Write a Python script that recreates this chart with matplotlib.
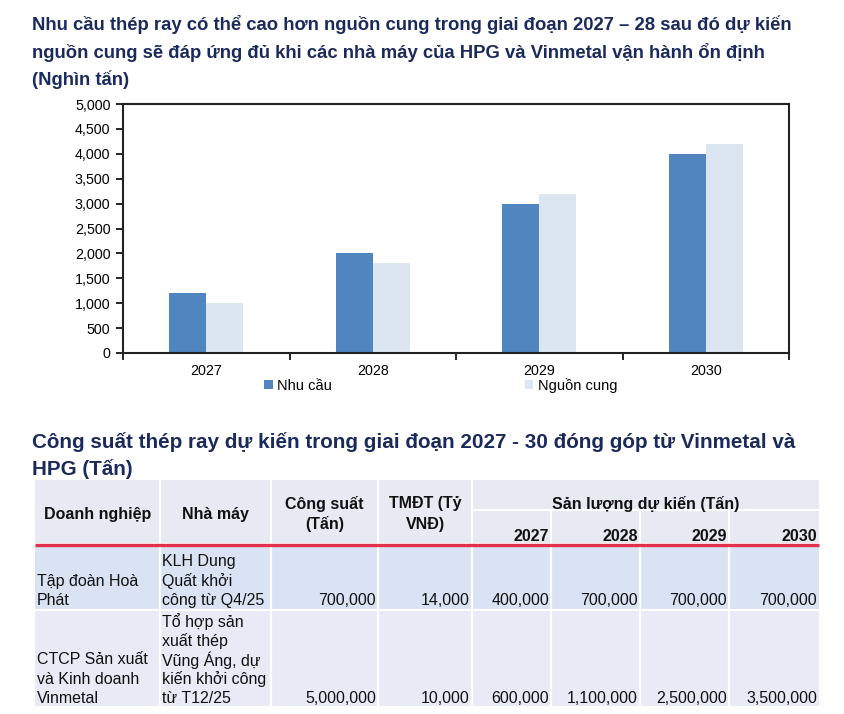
import matplotlib
matplotlib.use("Agg")
import matplotlib.pyplot as plt
import numpy as np
from matplotlib.patches import Rectangle, Patch
from matplotlib.ticker import FuncFormatter

plt.rcParams['font.family'] = ['Liberation Sans', 'DejaVu Sans']

# ---------------- data ----------------
years = ["2027", "2028", "2029", "2030"]
demand = [1200, 2000, 3000, 4000]
supply = [1000, 1800, 3200, 4200]
series_names = ["Nhu cầu", "Nguồn cung"]

chart_title = ("Nhu cầu thép ray có thể cao hơn nguồn cung trong giai đoạn 2027 – 28 sau đó dự kiến\n"
               "nguồn cung sẽ đáp ứng đủ khi các nhà máy của HPG và Vinmetal vận hành ổn định\n"
               "(Nghìn tấn)")
table_title = ("Công suất thép ray dự kiến trong giai đoạn 2027 - 30 đóng góp từ Vinmetal và\n"
               "HPG (Tấn)")

companies = ["Tập đoàn Hoà\nPhát", "CTCP Sản xuất\nvà Kinh doanh\nVinmetal"]
plants = ["KLH Dung\nQuất khởi\ncông từ Q4/25",
          "Tổ hợp sản\nxuất thép\nVũng Áng, dự\nkiến khởi công\ntừ T12/25"]
capacity = ["700,000", "5,000,000"]
capex = ["14,000", "10,000"]
out_2027 = ["400,000", "600,000"]
out_2028 = ["700,000", "1,100,000"]
out_2029 = ["700,000", "2,500,000"]
out_2030 = ["700,000", "3,500,000"]
header_cols = ["Doanh nghiệp", "Nhà máy", "Công suất\n(Tấn)", "TMĐT (Tỷ\nVNĐ)"]
header_span = "Sản lượng dự kiến (Tấn)"

# ---------------- figure ----------------
W, H = 844, 714
fig = plt.figure(figsize=(W / 100, H / 100), dpi=100)
fig.patch.set_facecolor("white")

NAVY = "#1B2A5C"
C_DEM = "#4F86BF"
C_SUP = "#DCE6F2"

def fx(px):
    return px / W

def fy(py):
    return 1 - py / H

# overlay for titles and table (pixel coordinates)
ov = fig.add_axes([0, 0, 1, 1])
ov.set_xlim(0, W)
ov.set_ylim(H, 0)
ov.axis("off")

for i, line in enumerate(chart_title.split("\n")):
    ov.text(32, 22 + i * 28, line, fontsize=13.3, fontweight="bold", color=NAVY,
            ha="left", va="center_baseline")

for i, line in enumerate(table_title.split("\n")):
    ov.text(32, 440 + i * 27, line, fontsize=14.9, fontweight="bold", color=NAVY,
            ha="left", va="center_baseline")

# ---------------- bar chart ----------------
L, R, T, B = 123, 789, 104, 353
ax = fig.add_axes([fx(L), fy(B), fx(R) - fx(L), fy(T) - fy(B)])
x = np.arange(len(years))
w = 0.222
ax.bar(x - w / 2, demand, w, color=C_DEM, zorder=2)
ax.bar(x + w / 2, supply, w, color=C_SUP, zorder=2)
ax.set_xlim(-0.5, len(years) - 0.5)
ax.set_ylim(0, 5000)
ax.set_yticks(np.arange(0, 5001, 500))
ax.yaxis.set_major_formatter(FuncFormatter(lambda v, p: f"{int(v):,}"))
ax.set_xticks(np.arange(-0.5, len(years), 1.0))
ax.set_xticklabels([])
ax.set_xticks(x, minor=True)
ax.set_xticklabels(years, minor=True)
ax.tick_params(axis="x", which="minor", length=0, pad=8, labelsize=10.3)
ax.tick_params(axis="x", which="major", length=5, width=1.2, direction="out")
ax.tick_params(axis="y", length=5, width=1.2, direction="out", labelsize=10.3, pad=4)
for s in ax.spines.values():
    s.set_linewidth(1.5)
    s.set_color("#222222")

handles = [Patch(facecolor=C_DEM, edgecolor="none"), Patch(facecolor=C_SUP, edgecolor="none")]
fig.legend(handles, series_names, loc="upper left", bbox_to_anchor=(fx(264), fy(378)),
           ncol=2, frameon=False, fontsize=10.5, handlelength=0.6, handleheight=0.6,
           handletextpad=0.3, columnspacing=13.2, borderpad=0, borderaxespad=0)

# ---------------- table ----------------
TL, TR = 35, 819
col_edges = [35, 160, 271, 378, 472, 551, 640, 729, 819]
HDR_T, HDR_MID, HDR_B = 480, 510, 543
ROW1_T, ROW1_B = 546, 609
ROW2_T, ROW2_B = 611, 706
C_HDR = "#E7E9F3"
C_R1 = "#DAE3F3"
C_R2 = "#E8EAF5"
RED = "#E3304C"

ov.add_patch(Rectangle((TL, HDR_T), TR - TL, HDR_B - HDR_T, facecolor=C_HDR, edgecolor="none"))
ov.add_patch(Rectangle((TL, ROW1_T), TR - TL, ROW1_B - ROW1_T, facecolor=C_R1, edgecolor="none"))
ov.add_patch(Rectangle((TL, ROW2_T), TR - TL, ROW2_B - ROW2_T, facecolor=C_R2, edgecolor="none"))

# white separators
for xe in col_edges[1:-1]:
    y0 = HDR_T if xe <= 472 else HDR_MID
    ov.plot([xe, xe], [y0, HDR_B], color="white", lw=1.6, solid_capstyle="butt")
    ov.plot([xe, xe], [ROW1_T, ROW2_B], color="white", lw=1.6, solid_capstyle="butt")
ov.plot([472, TR], [HDR_MID, HDR_MID], color="white", lw=1.6, solid_capstyle="butt")
ov.plot([TL, TR], [544.5, 544.5], color=RED, lw=2.4, solid_capstyle="butt")

HFS = 11.5
BFS = 11.5
TXT = "#111111"

def centered_lines(xc, lines, ys, **kw):
    for ln, yy in zip(lines, ys):
        ov.text(xc, yy, ln, ha="center", va="center_baseline", **kw)

centered_lines((col_edges[0] + col_edges[1]) / 2, [header_cols[0]], [513],
               fontsize=HFS, fontweight="bold", color=TXT)
centered_lines((col_edges[1] + col_edges[2]) / 2, [header_cols[1]], [513],
               fontsize=HFS, fontweight="bold", color=TXT)
centered_lines((col_edges[2] + col_edges[3]) / 2, header_cols[2].split("\n"), [502, 523],
               fontsize=HFS, fontweight="bold", color=TXT)
centered_lines((col_edges[3] + col_edges[4]) / 2, header_cols[3].split("\n"), [502, 523],
               fontsize=HFS, fontweight="bold", color=TXT)
centered_lines((col_edges[4] + col_edges[8]) / 2, [header_span], [502],
               fontsize=HFS, fontweight="bold", color=TXT)
for j, yr in enumerate(years):
    ov.text(col_edges[5 + j] - 2, 535, yr, ha="right", va="center_baseline",
            fontsize=HFS, fontweight="bold", color=TXT)

LH = 19.3
row_bottoms = [599, 697]
outputs = [out_2027, out_2028, out_2029, out_2030]
for r in range(2):
    yb = row_bottoms[r]
    comp_lines = companies[r].split("\n")
    for k, ln in enumerate(comp_lines):
        ov.text(37, yb - (len(comp_lines) - 1 - k) * LH, ln, ha="left", va="center_baseline",
                fontsize=BFS, color=TXT)
    plant_lines = plants[r].split("\n")
    for k, ln in enumerate(plant_lines):
        ov.text(162, yb - (len(plant_lines) - 1 - k) * LH, ln, ha="left", va="center_baseline",
                fontsize=BFS, color=TXT)
    vals = [capacity[r], capex[r]] + [o[r] for o in outputs]
    for j, v in enumerate(vals):
        ov.text(col_edges[3 + j] - 2, yb, v, ha="right", va="center_baseline",
                fontsize=BFS, color=TXT)

fig.savefig("out.png", dpi=100, facecolor="white")
